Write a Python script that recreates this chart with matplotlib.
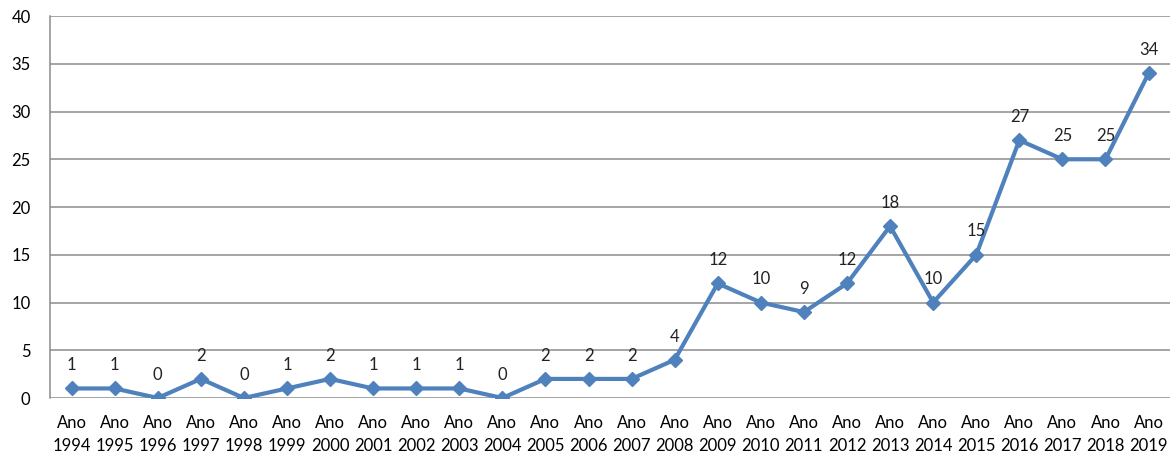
import numpy as np
import matplotlib.pyplot as plt

anos = list(range(1994, 2020))
valores = [1, 1, 0, 2, 0, 1, 2, 1, 1, 1, 0, 2, 2, 2, 4, 12, 10, 9, 12, 18, 10, 15, 27, 25, 25, 34]
rotulos = [f"Ano\n{a}" for a in anos]

plt.rcParams['font.family'] = ['Lato', 'DejaVu Sans']

fig = plt.figure(figsize=(11.76, 4.58), dpi=100)
ax = fig.add_axes([0.0425, 0.131, 0.9525, 0.834])

x = np.arange(len(anos))
ax.plot(x, valores, color='#4F81BD', linewidth=3, marker='D', markersize=7.5, zorder=3)

for xi, v in zip(x, valores):
    ax.annotate(str(v), (xi, v), xytext=(0, 11), textcoords='offset points',
                ha='center', va='bottom', fontsize=12, color='#222222')

ax.set_xlim(-0.5, len(anos) - 0.5)
ax.set_ylim(0, 40)
ax.set_yticks(range(0, 41, 5))
ax.set_xticks(x)
ax.set_xticklabels(rotulos, fontsize=12, linespacing=1.6)
ax.tick_params(axis='y', labelsize=12, length=0, pad=14)
ax.tick_params(axis='x', length=0, pad=12)

ax.grid(axis='y', color='#8c8c8c', linewidth=1.1)
ax.set_axisbelow(True)
for lado in ['top', 'right', 'bottom']:
    ax.spines[lado].set_visible(False)
ax.spines['left'].set_color('#8c8c8c')
ax.spines['left'].set_linewidth(1.1)

fig.savefig('out.png', dpi=100)
